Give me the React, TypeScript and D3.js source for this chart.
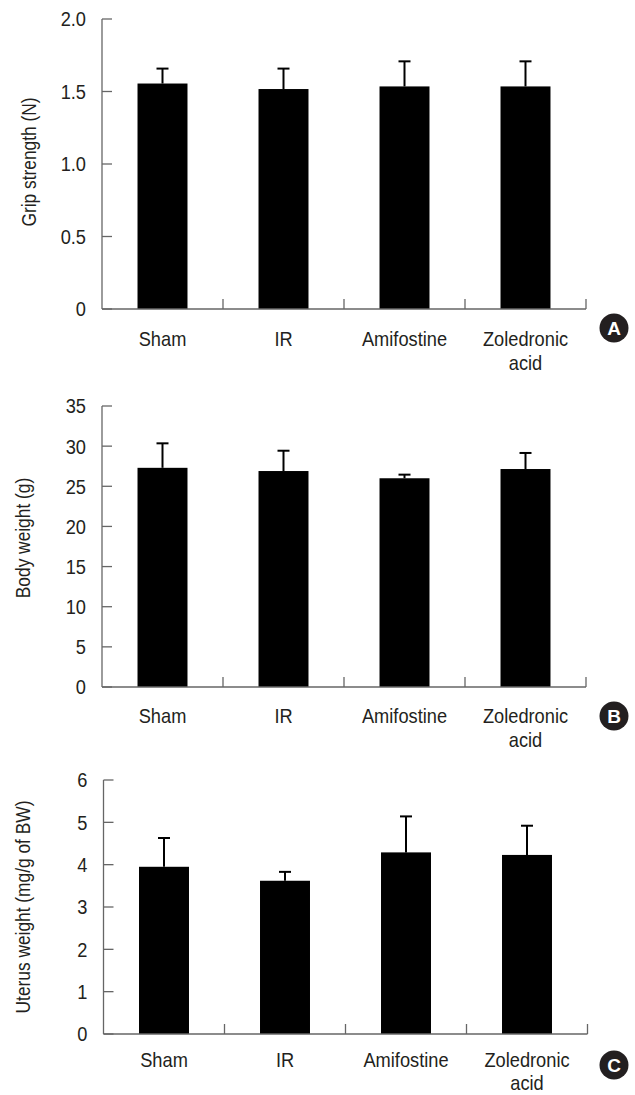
import * as d3 from 'd3'

// Groups on the x axis (second line of a label after the '|')
const categories = ['Sham', 'IR', 'Amifostine', 'Zoledronic|acid']

// Panel A: grip strength (N)
const gripMean = [1.555, 1.517, 1.535, 1.535]
const gripSd = [0.103, 0.141, 0.173, 0.173]
const gripTicks = [0, 0.5, 1.0, 1.5, 2.0]
const gripTickLabels = ['0', '0.5', '1.0', '1.5', '2.0']

// Panel B: body weight (g)
const bodyMean = [27.3, 26.9, 26.0, 27.15]
const bodySd = [3.05, 2.53, 0.45, 2.0]
const bodyTicks = [0, 5, 10, 15, 20, 25, 30, 35]
const bodyTickLabels = ['0', '5', '10', '15', '20', '25', '30', '35']

// Panel C: uterus weight (mg/g of BW)
const uterusMean = [3.95, 3.62, 4.29, 4.23]
const uterusSd = [0.68, 0.21, 0.85, 0.69]
const uterusTicks = [0, 1, 2, 3, 4, 5, 6]
const uterusTickLabels = ['0', '1', '2', '3', '4', '5', '6']

const FONT = '"Liberation Sans", Arial, Helvetica, sans-serif'
const AXIS = '#666'
const TEXT = '#231f20'
// the figure uses a condensed face: taller glyphs, squeezed horizontally
const SQUEEZE = 0.89

interface PanelProps {
  letter: string
  title: string
  means: number[]
  sds: number[]
  ticks: number[]
  tickLabels: string[]
  top: number
  bottom: number
  left: number
  right: number
  titleX: number
  titleY: number
  labelGap: number
  lineGap: number
  letterY: number
}

function Panel(p: PanelProps) {
  const y = d3.scaleLinear()
    .domain([0, p.ticks[p.ticks.length - 1]])
    .range([p.bottom, p.top])
  const x = d3.scaleBand<string>()
    .domain(categories)
    .range([p.left, p.right])
    .padding(0)
  const barW = x.bandwidth() * 0.413

  return (
    <g>
      {/* y ticks + labels */}
      {p.ticks.map((t, i) => (
        <g key={t}>
          <line x1={p.left} x2={p.left + 10} y1={y(t)} y2={y(t)} stroke={AXIS} strokeWidth={1.3} />
          <text transform={`translate(${p.left - 16},${y(t)}) scale(${SQUEEZE},1)`} dy="0.36em"
            textAnchor="end" fontSize={20.5} fill={TEXT}>
            {p.tickLabels[i]}
          </text>
        </g>
      ))}

      {/* bars */}
      {categories.map((c, i) => {
        const cx = x(c)! + x.bandwidth() / 2
        const top = y(p.means[i])
        const errTop = y(p.means[i] + p.sds[i])
        return (
          <g key={c}>
            <line x1={cx} x2={cx} y1={top} y2={errTop} stroke="#000" strokeWidth={2} />
            <line x1={cx - 6} x2={cx + 6} y1={errTop} y2={errTop} stroke="#000" strokeWidth={2} />
            <rect x={cx - barW / 2} y={top} width={barW} height={p.bottom - top} fill="#000" />
          </g>
        )
      })}

      {/* axes */}
      <line x1={p.left} x2={p.left} y1={p.top} y2={p.bottom} stroke={AXIS} strokeWidth={1.3} />
      <line x1={p.left} x2={p.right} y1={p.bottom} y2={p.bottom} stroke={AXIS} strokeWidth={1.3} />
      {categories.map(c => (
        <line key={c} x1={x(c)! + x.bandwidth()} x2={x(c)! + x.bandwidth()}
          y1={p.bottom} y2={p.bottom - 10} stroke={AXIS} strokeWidth={1.3} />
      ))}

      {/* category labels */}
      {categories.map(c => {
        const cx = x(c)! + x.bandwidth() / 2
        return (
          <text key={c} transform={`translate(${cx},${p.bottom + p.labelGap}) scale(${SQUEEZE},1)`}
            textAnchor="middle" fontSize={20.5} fill={TEXT}>
            {c.split('|').map((line, j) => (
              <tspan key={j} x={0} dy={j === 0 ? 0 : p.lineGap}>{line}</tspan>
            ))}
          </text>
        )
      })}

      {/* y title */}
      <text transform={`translate(${p.titleX},${p.titleY}) rotate(-90) scale(${SQUEEZE},1)`}
        textAnchor="middle" dominantBaseline="central" fontSize={19.5} fill={TEXT}>
        {p.title}
      </text>

      {/* panel letter */}
      <circle cx={614} cy={p.letterY} r={14.5} fill="#231f20" />
      <text x={614} y={p.letterY} dy="0.36em" textAnchor="middle" fontSize={19}
        fontWeight="bold" fill="#fff">
        {p.letter}
      </text>
    </g>
  )
}

export default function App() {
  return (
    <div style={{ position: 'absolute', left: 0, top: 0 }}>
      <svg width={635} height={1095} style={{ display: 'block', background: '#fff', fontFamily: FONT }}>
        <Panel letter="A" title="Grip strength (N)" means={gripMean} sds={gripSd}
          ticks={gripTicks} tickLabels={gripTickLabels}
          top={19} bottom={309} left={102} right={586}
          titleX={29} titleY={162} labelGap={36.5} lineGap={24.5} letterY={328} />
        <Panel letter="B" title="Body weight (g)" means={bodyMean} sds={bodySd}
          ticks={bodyTicks} tickLabels={bodyTickLabels}
          top={406} bottom={687} left={102} right={586}
          titleX={23.5} titleY={538} labelGap={36} lineGap={24.5} letterY={716} />
        <Panel letter="C" title="Uterus weight (mg/g of BW)" means={uterusMean} sds={uterusSd}
          ticks={uterusTicks} tickLabels={uterusTickLabels}
          top={780} bottom={1034} left={103.5} right={587.5}
          titleX={23.5} titleY={907} labelGap={33} lineGap={23.5} letterY={1065} />
      </svg>
    </div>
  )
}
